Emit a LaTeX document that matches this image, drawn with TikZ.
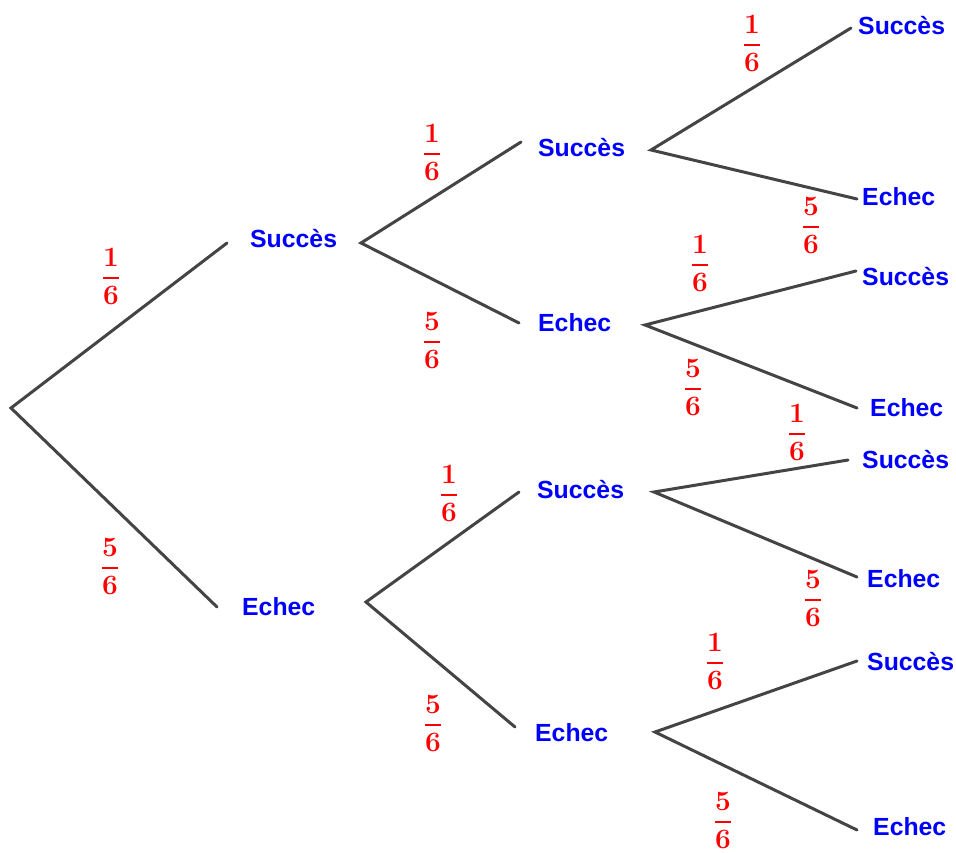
\RequirePackage{fix-cm}
\documentclass[tikz,border=0pt]{standalone}
\usepackage{amsmath}
\usepackage[no-math]{fontspec}
\setmainfont{Liberation Sans}
\begin{document}
\begin{tikzpicture}[x=1pt,y=-1pt,
  branch/.style={draw={rgb,255:red,68;green,68;blue,68}, line width=3pt, line cap=round},
  outcome/.style={anchor=west, inner sep=0pt, text height=17.8pt, text depth=0pt,
    text=blue, font=\fontsize{24.8}{30}\selectfont\bfseries},
  fracnode/.style={anchor=base, inner sep=0pt, text=red, font=\fontsize{28}{34}\selectfont}]
\useasboundingbox (0,0) rectangle (956,852);

% root of the tree
\coordinate (root) at (11,408);

% first draw
\coordinate (s1in) at (227,243); \node[outcome] (s1) at (250,239) {Succès}; \coordinate (s1out) at (361,243);
\coordinate (e1in) at (217,607); \node[outcome] (e1) at (242,607) {Echec};  \coordinate (e1out) at (366,602);

% second draw
\coordinate (ssin) at (521,142); \node[outcome] (ss) at (538,148) {Succès}; \coordinate (ssout) at (651,150);
\coordinate (sein) at (519,323); \node[outcome] (se) at (538,323) {Echec};  \coordinate (seout) at (645,325);
\coordinate (esin) at (519,492); \node[outcome] (es) at (537,490) {Succès}; \coordinate (esout) at (654,492);
\coordinate (eein) at (515,727); \node[outcome] (ee) at (535,733) {Echec};  \coordinate (eeout) at (655,732);

% third draw
\coordinate (sssin) at (851,28);  \node[outcome] (sss) at (858,26)  {Succès};
\coordinate (ssein) at (857,199); \node[outcome] (sse) at (862,197) {Echec};
\coordinate (sesin) at (856,271); \node[outcome] (ses) at (862,277) {Succès};
\coordinate (seein) at (857,408); \node[outcome] (see) at (870,408) {Echec};
\coordinate (essin) at (848,460); \node[outcome] (ess) at (862,460) {Succès};
\coordinate (esein) at (857,577); \node[outcome] (ese) at (867,579) {Echec};
\coordinate (eesin) at (857,661); \node[outcome] (ees) at (867,662) {Succès};
\coordinate (eeein) at (857,830); \node[outcome] (eee) at (873,827) {Echec};

% branches
\draw[branch] (s1in) -- (root) -- (e1in);
\draw[branch] (ssin) -- (s1out) -- (sein);
\draw[branch] (esin) -- (e1out) -- (eein);
\draw[branch] (sssin) -- (ssout) -- (ssein);
\draw[branch] (sesin) -- (seout) -- (seein);
\draw[branch] (essin) -- (esout) -- (esein);
\draw[branch] (eesin) -- (eeout) -- (eeein);

% probabilities: the baseline sits one axis height below the fraction bar
\node[fracnode] (p1) at (111,285) {$\genfrac{}{}{1.6pt}{0}{\mathbf{1}}{\mathbf{6}}$};
\node[fracnode] (p2) at (110,575) {$\genfrac{}{}{1.6pt}{0}{\mathbf{5}}{\mathbf{6}}$};
\node[fracnode] (p3) at (432,161) {$\genfrac{}{}{1.6pt}{0}{\mathbf{1}}{\mathbf{6}}$};
\node[fracnode] (p4) at (432,349) {$\genfrac{}{}{1.6pt}{0}{\mathbf{5}}{\mathbf{6}}$};
\node[fracnode] (p5) at (449,502) {$\genfrac{}{}{1.6pt}{0}{\mathbf{1}}{\mathbf{6}}$};
\node[fracnode] (p6) at (433,732) {$\genfrac{}{}{1.6pt}{0}{\mathbf{5}}{\mathbf{6}}$};
\node[fracnode] (p7) at (752,52)  {$\genfrac{}{}{1.6pt}{0}{\mathbf{1}}{\mathbf{6}}$};
\node[fracnode] (p8) at (811,234) {$\genfrac{}{}{1.6pt}{0}{\mathbf{5}}{\mathbf{6}}$};
\node[fracnode] (p9) at (700,272) {$\genfrac{}{}{1.6pt}{0}{\mathbf{1}}{\mathbf{6}}$};
\node[fracnode] (p10) at (693,396) {$\genfrac{}{}{1.6pt}{0}{\mathbf{5}}{\mathbf{6}}$};
\node[fracnode] (p11) at (797,441) {$\genfrac{}{}{1.6pt}{0}{\mathbf{1}}{\mathbf{6}}$};
\node[fracnode] (p12) at (813,607) {$\genfrac{}{}{1.6pt}{0}{\mathbf{5}}{\mathbf{6}}$};
\node[fracnode] (p13) at (715,670) {$\genfrac{}{}{1.6pt}{0}{\mathbf{1}}{\mathbf{6}}$};
\node[fracnode] (p14) at (723,829) {$\genfrac{}{}{1.6pt}{0}{\mathbf{5}}{\mathbf{6}}$};
\end{tikzpicture}
\end{document}
